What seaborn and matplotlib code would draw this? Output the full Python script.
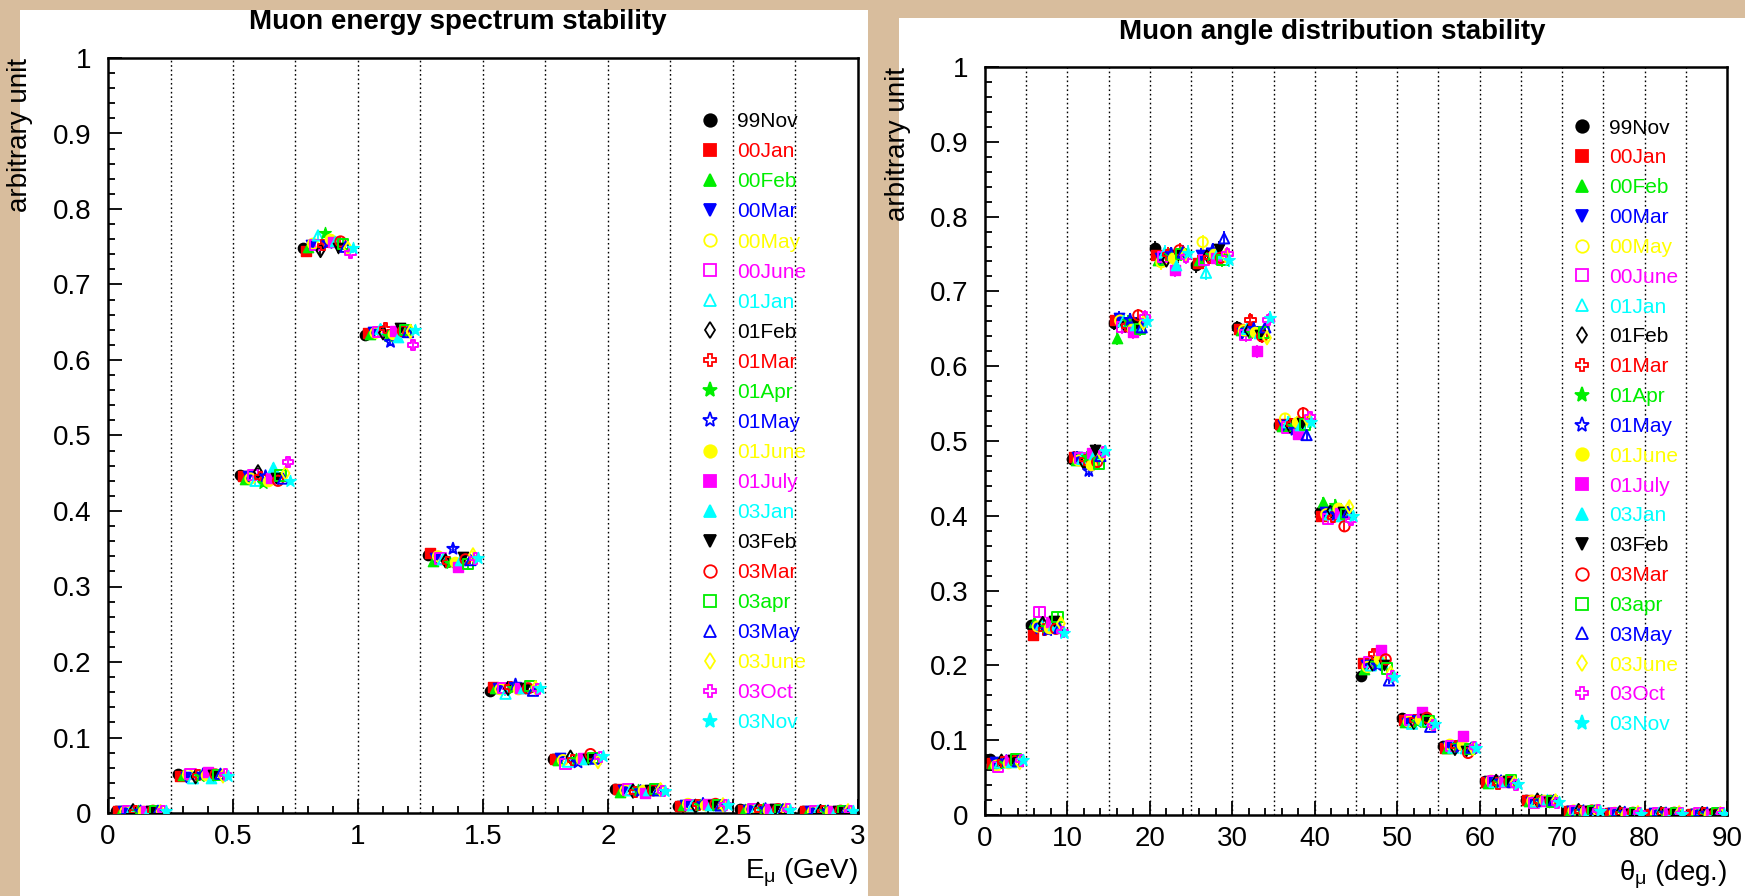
import numpy as np
import pandas as pd
import matplotlib
matplotlib.use("Agg")
import matplotlib.pyplot as plt
from matplotlib.patches import Rectangle
from matplotlib.lines import Line2D
from matplotlib.ticker import MultipleLocator, FormatStrFormatter
import seaborn as sns

# ---------------- data ----------------
periods = ["99Nov", "00Jan", "00Feb", "00Mar", "00May", "00June", "01Jan", "01Feb",
           "01Mar", "01Apr", "01May", "01June", "01July", "03Jan", "03Feb", "03Mar",
           "03apr", "03May", "03June", "03Oct", "03Nov"]

energy_edges = [0.0, 0.25, 0.5, 0.75, 1.0, 1.25, 1.5, 1.75, 2.0, 2.25, 2.5, 2.75, 3.0]
energy_values = [
    [0.002, 0.002, 0.003, 0.003, 0.002, 0.003, 0.002, 0.003, 0.002, 0.003, 0.002, 0.003, 0.002, 0.003, 0.002, 0.003, 0.002, 0.003, 0.002, 0.003, 0.002],
    [0.052, 0.049, 0.050, 0.048, 0.051, 0.052, 0.046, 0.048, 0.050, 0.049, 0.051, 0.050, 0.054, 0.047, 0.050, 0.051, 0.050, 0.052, 0.049, 0.051, 0.049],
    [0.448, 0.446, 0.442, 0.447, 0.443, 0.448, 0.440, 0.452, 0.445, 0.437, 0.446, 0.440, 0.444, 0.458, 0.444, 0.440, 0.447, 0.443, 0.450, 0.465, 0.440],
    [0.748, 0.745, 0.750, 0.752, 0.754, 0.752, 0.765, 0.745, 0.752, 0.768, 0.755, 0.760, 0.756, 0.757, 0.748, 0.757, 0.754, 0.750, 0.748, 0.742, 0.748],
    [0.633, 0.636, 0.635, 0.637, 0.636, 0.637, 0.641, 0.636, 0.642, 0.632, 0.624, 0.634, 0.638, 0.630, 0.643, 0.638, 0.640, 0.637, 0.638, 0.620, 0.640],
    [0.342, 0.344, 0.334, 0.338, 0.340, 0.337, 0.336, 0.334, 0.332, 0.331, 0.350, 0.333, 0.326, 0.335, 0.339, 0.336, 0.330, 0.335, 0.342, 0.337, 0.338],
    [0.162, 0.167, 0.165, 0.166, 0.164, 0.166, 0.158, 0.165, 0.167, 0.166, 0.170, 0.164, 0.165, 0.166, 0.166, 0.165, 0.168, 0.162, 0.166, 0.164, 0.166],
    [0.072, 0.071, 0.070, 0.073, 0.070, 0.065, 0.068, 0.074, 0.070, 0.071, 0.067, 0.072, 0.073, 0.071, 0.072, 0.078, 0.073, 0.072, 0.068, 0.074, 0.075],
    [0.032, 0.032, 0.028, 0.031, 0.030, 0.031, 0.030, 0.029, 0.028, 0.030, 0.029, 0.030, 0.027, 0.030, 0.031, 0.030, 0.032, 0.030, 0.031, 0.029, 0.029],
    [0.009, 0.009, 0.010, 0.011, 0.012, 0.011, 0.010, 0.009, 0.011, 0.010, 0.012, 0.011, 0.012, 0.011, 0.010, 0.012, 0.011, 0.010, 0.011, 0.011, 0.010],
    [0.005, 0.004, 0.005, 0.004, 0.005, 0.005, 0.004, 0.005, 0.004, 0.005, 0.005, 0.004, 0.005, 0.004, 0.005, 0.005, 0.004, 0.005, 0.004, 0.005, 0.004],
    [0.002, 0.002, 0.002, 0.003, 0.002, 0.002, 0.003, 0.002, 0.002, 0.003, 0.002, 0.002, 0.003, 0.002, 0.002, 0.003, 0.002, 0.002, 0.003, 0.002, 0.002],
]
energy_errors = [0.001, 0.002, 0.005, 0.006, 0.006, 0.005, 0.003, 0.002, 0.0015, 0.001, 0.0007, 0.0005]

angle_edges = [0, 5, 10, 15, 20, 25, 30, 35, 40, 45, 50, 55, 60, 65, 70, 75, 80, 85, 90]
angle_values = [
    [0.075, 0.070, 0.069, 0.071, 0.066, 0.064, 0.070, 0.072, 0.071, 0.070, 0.072, 0.069, 0.073, 0.071, 0.073, 0.072, 0.074, 0.072, 0.070, 0.073, 0.074],
    [0.254, 0.241, 0.258, 0.250, 0.252, 0.271, 0.255, 0.256, 0.248, 0.252, 0.247, 0.250, 0.258, 0.254, 0.260, 0.249, 0.265, 0.250, 0.256, 0.245, 0.243],
    [0.476, 0.478, 0.475, 0.479, 0.474, 0.477, 0.476, 0.471, 0.475, 0.478, 0.460, 0.468, 0.484, 0.482, 0.488, 0.472, 0.470, 0.480, 0.482, 0.485, 0.487],
    [0.658, 0.662, 0.638, 0.665, 0.661, 0.652, 0.660, 0.655, 0.654, 0.660, 0.662, 0.650, 0.646, 0.655, 0.657, 0.668, 0.650, 0.652, 0.658, 0.666, 0.660],
    [0.758, 0.748, 0.742, 0.745, 0.739, 0.746, 0.752, 0.742, 0.749, 0.748, 0.750, 0.744, 0.729, 0.735, 0.748, 0.755, 0.750, 0.752, 0.748, 0.746, 0.752],
    [0.735, 0.738, 0.742, 0.748, 0.766, 0.742, 0.725, 0.748, 0.745, 0.748, 0.755, 0.750, 0.745, 0.752, 0.757, 0.745, 0.742, 0.771, 0.748, 0.750, 0.742],
    [0.652, 0.650, 0.648, 0.645, 0.648, 0.642, 0.650, 0.648, 0.662, 0.645, 0.650, 0.646, 0.620, 0.645, 0.642, 0.640, 0.645, 0.652, 0.638, 0.662, 0.665],
    [0.521, 0.523, 0.520, 0.522, 0.530, 0.518, 0.525, 0.520, 0.523, 0.520, 0.515, 0.525, 0.510, 0.522, 0.524, 0.537, 0.522, 0.508, 0.528, 0.532, 0.525],
    [0.405, 0.400, 0.418, 0.405, 0.402, 0.396, 0.402, 0.407, 0.398, 0.415, 0.402, 0.410, 0.404, 0.400, 0.405, 0.386, 0.402, 0.405, 0.412, 0.394, 0.400],
    [0.186, 0.203, 0.195, 0.200, 0.198, 0.205, 0.200, 0.202, 0.215, 0.203, 0.200, 0.208, 0.221, 0.205, 0.200, 0.208, 0.196, 0.180, 0.190, 0.186, 0.184],
    [0.130, 0.127, 0.124, 0.123, 0.125, 0.127, 0.122, 0.124, 0.127, 0.125, 0.130, 0.128, 0.138, 0.127, 0.128, 0.130, 0.125, 0.118, 0.122, 0.120, 0.122],
    [0.092, 0.090, 0.090, 0.091, 0.094, 0.092, 0.090, 0.089, 0.092, 0.093, 0.091, 0.093, 0.106, 0.090, 0.086, 0.083, 0.088, 0.090, 0.089, 0.091, 0.089],
    [0.045, 0.044, 0.043, 0.044, 0.046, 0.045, 0.044, 0.045, 0.042, 0.044, 0.045, 0.046, 0.044, 0.046, 0.045, 0.044, 0.046, 0.044, 0.043, 0.040, 0.042],
    [0.020, 0.020, 0.019, 0.018, 0.019, 0.016, 0.018, 0.020, 0.019, 0.020, 0.018, 0.020, 0.019, 0.021, 0.018, 0.019, 0.018, 0.020, 0.019, 0.016, 0.017],
    [0.006, 0.006, 0.005, 0.005, 0.006, 0.005, 0.006, 0.006, 0.005, 0.006, 0.005, 0.006, 0.006, 0.006, 0.005, 0.006, 0.005, 0.006, 0.005, 0.006, 0.005],
    [0.003, 0.003, 0.002, 0.003, 0.003, 0.002, 0.003, 0.003, 0.002, 0.003, 0.003, 0.002, 0.003, 0.003, 0.002, 0.003, 0.003, 0.002, 0.003, 0.003, 0.002],
    [0.002, 0.002, 0.002, 0.003, 0.002, 0.002, 0.003, 0.002, 0.002, 0.003, 0.002, 0.002, 0.003, 0.002, 0.002, 0.003, 0.002, 0.002, 0.003, 0.002, 0.002],
    [0.002, 0.002, 0.002, 0.002, 0.002, 0.002, 0.002, 0.002, 0.002, 0.002, 0.002, 0.002, 0.002, 0.002, 0.002, 0.002, 0.002, 0.002, 0.002, 0.002, 0.002],
]
angle_errors = [0.003, 0.006, 0.008, 0.009, 0.010, 0.010, 0.009, 0.008, 0.007, 0.005,
                0.004, 0.003, 0.002, 0.0015, 0.001, 0.0007, 0.0005, 0.0005]

# ---------------- styles ----------------
colors = ["#000000", "#ff0000", "#00ee00", "#0000ff", "#ffff00", "#ff00ff", "#00ffff"]
marker_cycle = [("o", True), ("s", True), ("^", True), ("v", True), ("o", False),
                ("s", False), ("^", False), ("d", False), ("P", False), ("*", True),
                ("*", False)]

sns.set_theme(style="ticks")
plt.rcParams["font.family"] = ["Liberation Sans", "DejaVu Sans"]
plt.rcParams["mathtext.fontset"] = "custom"
plt.rcParams["mathtext.rm"] = "Liberation Sans"
plt.rcParams["mathtext.it"] = "Liberation Sans:italic"
for key in ["text.color", "axes.labelcolor", "xtick.color", "ytick.color",
            "axes.edgecolor"]:
    plt.rcParams[key] = "black"

W, H = 1745, 896
fig = plt.figure(figsize=(W / 100, H / 100), dpi=100)
fig.patch.set_facecolor("#d8bd9d")

# white panels (behind the axes)
fig.patches.append(Rectangle((20 / W, 0), (868 - 20) / W, (H - 10) / H,
                             transform=fig.transFigure, facecolor="white",
                             edgecolor="none", zorder=-5))
fig.patches.append(Rectangle((899 / W, 0), (W - 899) / W, (H - 18) / H,
                             transform=fig.transFigure, facecolor="white",
                             edgecolor="none", zorder=-5))


def px_axes(x0, x1, ytop, ybot):
    ax = fig.add_axes([x0 / W, 1 - ybot / H, (x1 - x0) / W, (ybot - ytop) / H])
    ax.set_zorder(2)
    return ax


def draw_panel(ax, edges, values, errors, xmax, xmajor, xminor, title, tx, ty,
               xlabel, leg_anchor, leg_spacing):
    edges = np.asarray(edges, dtype=float)
    for i, name in enumerate(periods):
        c = colors[i % len(colors)]
        m, filled = marker_cycle[i % len(marker_cycle)]
        lo = edges[:-1]
        w = np.diff(edges)
        xs = lo + w * (i + 3) / 25.0
        ys = np.array([v[i] for v in values])
        ax.errorbar(xs, ys, yerr=errors, fmt="none", ecolor=c, elinewidth=1.3,
                    capsize=0, zorder=2)
        df = pd.DataFrame({"x": xs, "y": ys})
        size = {"d": 45, "*": 75}.get(m, 55)
        if filled:
            sns.scatterplot(data=df, x="x", y="y", ax=ax, marker=m, s=size,
                            color=c, edgecolor=c, linewidth=1.0, legend=False,
                            zorder=3)
        else:
            sns.scatterplot(data=df, x="x", y="y", ax=ax, marker=m, s=size,
                            facecolor="none", edgecolor=c, color=c,
                            linewidth=1.4, legend=False, zorder=3)

    for e in edges[1:-1]:
        ax.axvline(e, color="black", lw=1.0, ls=(0, (1.2, 2.0)), zorder=1)

    ax.set_xlim(0, xmax)
    ax.set_ylim(0, 1)
    ax.xaxis.set_major_locator(MultipleLocator(xmajor))
    ax.xaxis.set_minor_locator(MultipleLocator(xminor))
    ax.yaxis.set_major_locator(MultipleLocator(0.1))
    ax.yaxis.set_minor_locator(MultipleLocator(0.02))
    ax.xaxis.set_major_formatter(FormatStrFormatter("%g"))
    ax.yaxis.set_major_formatter(FormatStrFormatter("%g"))
    ax.tick_params(which="both", direction="in", top=False, right=False,
                   left=True, bottom=True, width=1.3, color="black",
                   labelcolor="black")
    ax.tick_params(which="major", length=10, labelsize=20)
    ax.tick_params(which="minor", length=5)
    ax.tick_params(axis="y", which="major", pad=12)
    ax.tick_params(axis="x", which="major", pad=8)
    for s in ax.spines.values():
        s.set_linewidth(1.8)
        s.set_color("black")
        s.set_visible(True)
    ax.set_facecolor("white")

    ax.set_ylabel("arbitrary unit", fontsize=20, loc="top")
    ax.yaxis.set_label_coords(-0.10, 1.0)
    ax.set_xlabel(xlabel, fontsize=20, loc="right")
    ax.xaxis.set_label_coords(1.0, -0.058)

    fig.text(tx, ty, title, fontsize=20, fontweight="bold", ha="center",
             va="center", color="black")

    handles = []
    for i, name in enumerate(periods):
        c = colors[i % len(colors)]
        m, filled = marker_cycle[i % len(marker_cycle)]
        ms = {"d": 8, "*": 11}.get(m, 9)
        handles.append(Line2D([], [], ls="none", marker=m, markersize=ms,
                              markerfacecolor=c if filled else "none",
                              markeredgecolor=c, markeredgewidth=1.3))
    leg = ax.legend(handles, periods, loc="upper left", bbox_to_anchor=leg_anchor,
                    frameon=False, fontsize=15, handlelength=0.9,
                    handletextpad=0.85, labelspacing=leg_spacing, borderpad=0,
                    borderaxespad=0)
    for t, i in zip(leg.get_texts(), range(len(periods))):
        t.set_color(colors[i % len(colors)])


ax1 = px_axes(108, 858, 58, 813)
draw_panel(ax1, energy_edges, energy_values, energy_errors, 3.0, 0.5, 0.1,
           "Muon energy spectrum stability", 458 / W, 1 - 22 / H,
           r"E$_\mathregular{μ}$ (GeV)", (0.790, 0.928), 0.53)

ax2 = px_axes(985, 1727, 67, 815)
draw_panel(ax2, angle_edges, angle_values, angle_errors, 90, 10, 2,
           "Muon angle distribution stability", 1332 / W, 1 - 32 / H,
           r"θ$_\mathregular{μ}$ (deg.)", (0.792, 0.931), 0.52)

fig.savefig("out.png", dpi=100, facecolor=fig.get_facecolor())
